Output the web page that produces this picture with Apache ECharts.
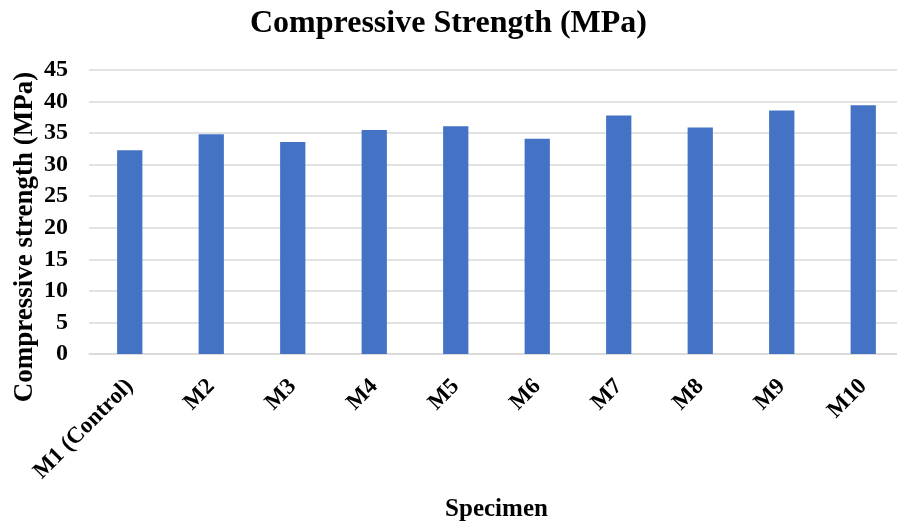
<!DOCTYPE html>
<html>
<head>
<meta charset="utf-8">
<script src="https://cdn.jsdelivr.net/npm/echarts@6/dist/echarts.min.js"></script>
<style>
  html, body { margin: 0; padding: 0; background: #ffffff; }
  #chart { width: 897px; height: 526px; }
</style>
</head>
<body>
<div id="chart"></div>
<script>
// Specimen labels and their compressive strength (MPa)
const specimens = ['M1 (Control)', 'M2', 'M3', 'M4', 'M5', 'M6', 'M7', 'M8', 'M9', 'M10'];
const strength = [32.3, 34.8, 33.6, 35.5, 36.1, 34.1, 37.8, 35.9, 38.6, 39.4];

const serif = '"Liberation Serif", "Times New Roman", serif';

const chart = echarts.init(document.getElementById('chart'), null, { renderer: 'canvas' });

chart.setOption({
  backgroundColor: '#ffffff',
  animation: false,
  title: {
    text: 'Compressive Strength (MPa)',
    left: 'center',
    top: 3,
    textStyle: { fontFamily: serif, fontSize: 32, fontWeight: 'bold', color: '#000' }
  },
  // plot area runs a little past the right edge of the canvas
  grid: { left: 89, width: 815, top: 70, height: 284, outerBoundsMode: 'none', containLabel: false },
  xAxis: {
    type: 'category',
    data: specimens,
    name: 'Specimen',
    nameLocation: 'middle',
    nameGap: 143,
    nameTextStyle: { fontFamily: serif, fontSize: 25, fontWeight: 'bold', color: '#000' },
    axisLine: { lineStyle: { color: '#d9d9d9', width: 1.5 } },
    axisTick: { show: false },
    axisLabel: {
      rotate: 45,
      interval: 0,
      margin: 29,
      fontFamily: serif,
      fontSize: 23,
      fontWeight: 'bold',
      color: '#000'
    }
  },
  yAxis: {
    type: 'value',
    min: 0,
    max: 45,
    interval: 5,
    axisLine: { show: false },
    axisTick: { show: false },
    axisLabel: {
      margin: 21,
      fontFamily: serif,
      fontSize: 24,
      fontWeight: 'bold',
      color: '#000'
    },
    splitLine: { lineStyle: { color: '#d9d9d9', width: 1.5 } }
  },
  graphic: [{
    type: 'text',
    x: 25,
    y: 237,
    rotation: Math.PI / 2,
    style: {
      text: 'Compressive strength (MPa)',
      font: 'bold 27px ' + serif,
      fill: '#000',
      align: 'center',
      verticalAlign: 'middle'
    }
  }],
  series: [{
    type: 'bar',
    data: strength,
    barWidth: '31%',
    itemStyle: { color: '#4472C4' }
  }]
});
</script>
</body>
</html>
